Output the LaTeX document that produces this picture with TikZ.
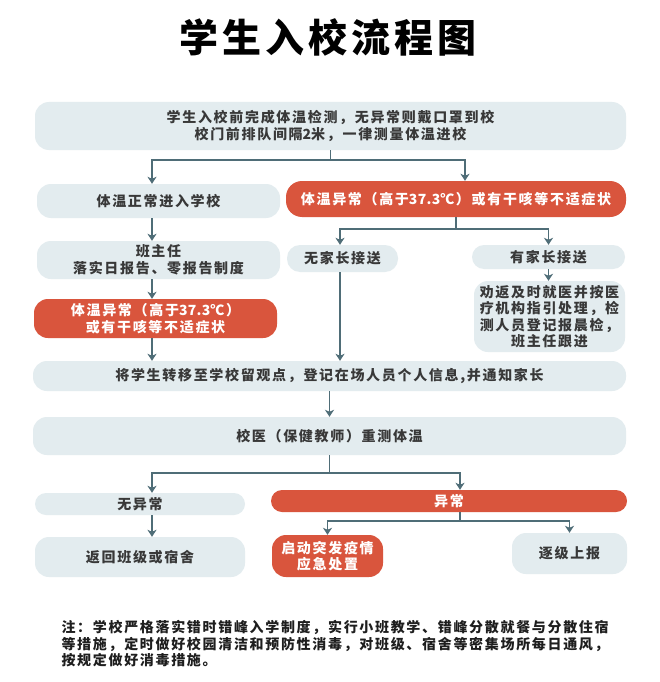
\documentclass[tikz,border=0pt]{standalone}
\usepackage{fontspec}
\setmainfont{Noto Sans CJK SC}[LetterSpace=12]
\newfontfamily\tightnum{Noto Sans CJK SC}[LetterSpace=2]
\newfontfamily\titlefont{Noto Sans CJK SC Black}[LetterSpace=10]
\usepackage{tikz}
\usetikzlibrary{arrows.meta,positioning,calc}
\definecolor{BoxBg}{HTML}{E3ECEF}
\definecolor{AlarmRed}{HTML}{D9553D}
\definecolor{LineSlate}{HTML}{4F6D77}
\definecolor{TextGray}{HTML}{383838}
\definecolor{NoteInk}{HTML}{1E1E1E}
\newcommand{\degc}{{\tightnum 37.3}℃}
\tikzset{
  % Base box
  FB/.style={rectangle,rounded corners=14pt,inner sep=2pt,
             text centered,align=center,
             font=\fontsize{14}{16.5}\selectfont\bfseries},
  % Arrow
  arr/.style={-{Stealth[length=7pt,width=9pt,inset=2pt]},line width=1.5pt,draw=LineSlate},
  % Colour variants
  nL/.style={FB,fill=BoxBg,text=TextGray},
  nR/.style={FB,fill=AlarmRed,text=white},
  % Title and note
  TT/.style={font=\fontsize{39}{46}\selectfont\titlefont,text=black},
  NT/.style={font=\fontsize{14}{16.5}\selectfont\bfseries,text=NoteInk,align=left}
}
\begin{document}
\begin{tikzpicture}[x=1pt,y=-1pt]
  \fill[white] (0,0) rectangle (660,682);
  \useasboundingbox (0,0) rectangle (660,682);
  \node[TT] (title) at (328,37) {学生入校流程图};
  % columns of the arrows
  \coordinate (colL) at (152,0);
  \coordinate (colM) at (340,0);
  \coordinate (colF) at (465,0);
  \coordinate (colA) at (460,0);
  % boxes
  \node[nL,minimum width=591pt,minimum height=48pt] (gate) at (330.5,126)
       {学生入校前完成体温检测，无异常则戴口罩到校\\校门前排队间隔{\tightnum 2}米，一律测量体温进校};
  \node[nL,minimum width=243pt,minimum height=34pt] (normal) at (158.5,201) {体温正常进入学校};
  \node[nR,minimum width=340pt,minimum height=36pt,rounded corners=16pt] (fever) at (456,199)
       {体温异常（高于\degc）或有干咳等不适症状};
  \node[nL,minimum width=243pt,minimum height=38pt] (tutor) at (158.5,260) {班主任\\落实日报告、零报告制度};
  \node[nL,minimum width=111pt,minimum height=27pt,rounded corners=13pt] (nopick) at (342.5,258.5) {无家长接送};
  \node[nL,minimum width=153pt,minimum height=24pt,rounded corners=12pt] (pick) at (548.5,257) {有家长接送};
  \node[nR,minimum width=243pt,minimum height=39pt] (fever2) at (155.5,318.5)
       {体温异常（高于\degc）\\或有干咳等不适症状};
  \node[nL,minimum width=151pt,minimum height=71pt] (advise) at (549.5,316.5)
       {劝返及时就医并按医\\疗机构指引处理，检\\测人员登记报晨检，\\班主任跟进};
  \node[nL,minimum width=593pt,minimum height=30pt] (transfer) at (329.5,376)
       {将学生转移至学校留观点，登记在场人员个人信息,并通知家长};
  \node[nL,minimum width=593pt,minimum height=38pt] (recheck) at (329.5,436) {校医（保健教师）重测体温};
  \node[nL,minimum width=210pt,minimum height=22pt,rounded corners=11pt] (fine) at (140,504) {无异常};
  \node[nR,minimum width=356pt,minimum height=22pt,rounded corners=11pt] (abnormal) at (449,501) {异常};
  \node[nL,minimum width=210pt,minimum height=40pt] (back) at (140,557) {返回班级或宿舍};
  \node[nR,minimum width=111pt,minimum height=42pt] (emerg) at (327.5,556) {启动突发疫情\\应急处置};
  \node[nL,minimum width=115pt,minimum height=41pt] (report) at (569.5,553.5) {逐级上报};
  \node[NT,anchor=north west] (note) at (58,617)
       {注：学校严格落实错时错峰入学制度，实行小班教学、错峰分散就餐与分散住宿\\
        等措施，定时做好校园清洁和预防性消毒，对班级、宿舍等密集场所每日通风，\\
        按规定做好消毒措施。};
  % connectors
  \coordinate (j1) at (330.5,160);
  \coordinate (j2) at (456,229);
  \coordinate (j3) at (329.5,473);
  \coordinate (j4) at (460,521);
  \draw[arr] (gate.south) -- (j1) -| (colL |- normal.north);
  \draw[arr] (j1) -| (colF |- fever.north);
  \draw[arr] (fever.south) -- (j2) -| (colM |- nopick.north);
  \draw[arr] (j2) -| (pick.north);
  \draw[arr] (colL |- normal.south) -- (colL |- tutor.north);
  \draw[arr] (colL |- tutor.south) -- (colL |- fever2.north);
  \draw[arr] (colL |- fever2.south) -- (colL |- transfer.north);
  \draw[arr] (colM |- nopick.south) -- (colM |- transfer.north);
  \draw[arr] (pick.south) -- (pick.south |- advise.north);
  \draw[arr] (transfer.south) -- (recheck.north);
  \draw[arr] (recheck.south) -- (j3) -| (colL |- fine.north);
  \draw[arr] (j3) -| (colA |- abnormal.north);
  \draw[arr] (colL |- fine.south) -- (colL |- back.north);
  \draw[arr] (colA |- abnormal.south) -- (j4) -| (emerg.north);
  \draw[arr] (j4) -| (report.north);
\end{tikzpicture}
\end{document}
